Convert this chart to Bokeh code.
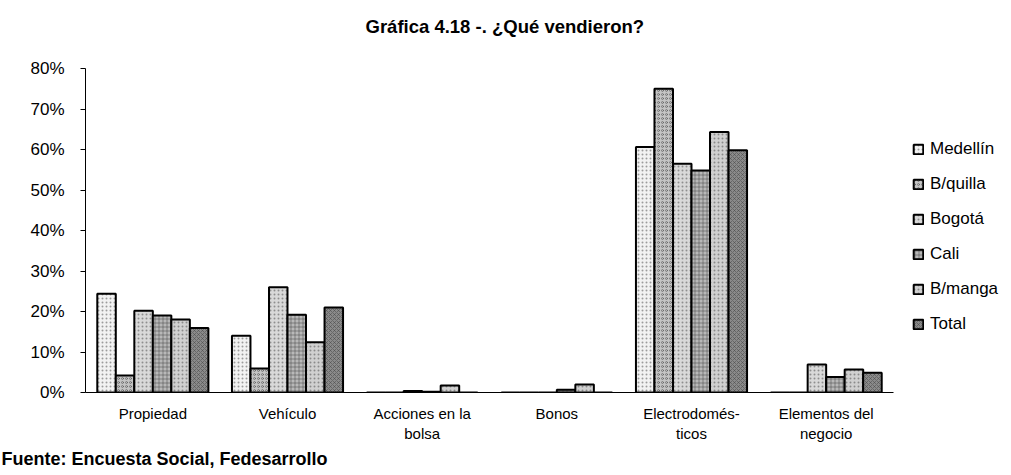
from bokeh.plotting import figure
from bokeh.models import (FactorRange, Range1d, FixedTicker, NumeralTickFormatter,
                          Legend, LegendItem, Title, ColumnDataSource)
from bokeh.transform import dodge
from bokeh.embed import file_html
from bokeh.resources import INLINE

# ---- data (percent) ----
categories = ["Propiedad", "Vehículo", "Acciones en la\nbolsa", "Bonos",
              "Electrodomés-\nticos", "Elementos del\nnegocio"]
series_names = ["Medellín", "B/quilla", "Bogotá", "Cali", "B/manga", "Total"]
medellin = [24.4, 14.0, 0.0, 0.0, 60.6, 0.0]
bquilla = [4.2, 5.9, 0.0, 0.0, 75.0, 0.0]
bogota = [20.2, 26.0, 0.4, 0.0, 56.5, 6.9]
cali = [19.0, 19.2, 0.2, 0.7, 54.8, 3.8]
bmanga = [18.0, 12.4, 1.7, 2.0, 64.3, 5.7]
total = [15.9, 21.0, 0.0, 0.0, 59.8, 4.9]
y_ticks = [0, 0.1, 0.2, 0.3, 0.4, 0.5, 0.6, 0.7, 0.8]

series_values = [medellin, bquilla, bogota, cali, bmanga, total]
keys = ["s0", "s1", "s2", "s3", "s4", "s5"]

data = {"cat": categories}
for k, vals in zip(keys, series_values):
    data[k] = [v / 100.0 for v in vals]
source = ColumnDataSource(data)

FONT = "Liberation Sans"

p = figure(frame_width=808, frame_height=324,
           x_range=FactorRange(*categories, range_padding=0, factor_padding=0),
           y_range=Range1d(0, 0.8),
           output_backend="svg", toolbar_location=None,
           min_border_left=85, min_border_right=118,
           min_border_top=68, min_border_bottom=83,
           title="Gráfica 4.18 -. ¿Qué vendieron?")

p.title.text_font = FONT
p.title.text_font_size = "18.5px"
p.title.text_font_style = "bold"
p.title.text_color = "black"
p.title.align = "left"
p.title.offset = 280
p.title.vertical_align = "top"
p.title.standoff = 0

# spacer title between the main title and the frame
spacer = Title(text=" ", text_font=FONT, text_font_size="10px", standoff=17)
p.add_layout(spacer, "above")

fills = ["#f2f2f2", "#c4c4c4", "#d9d9d9", "#b8b8b8", "#d0d0d0", "#8a8a8a"]
hatches = [".", "o", ".", "+", ".", "x"]

bw = 0.1375
renderers = []
for i, k in enumerate(keys):
    off = -3 * bw + bw / 2 + i * bw
    r = p.vbar(x=dodge("cat", off, range=p.x_range), top=k, width=bw,
               source=source, fill_color=fills[i], line_color="black",
               line_width=2, hatch_pattern=hatches[i], hatch_color="#444444",
               hatch_alpha=0.5, hatch_scale=4)
    renderers.append(r)

legend = Legend(items=[LegendItem(label=n, renderers=[r]) for n, r in zip(series_names, renderers)],
                location=(19, 58), border_line_color=None, background_fill_alpha=0,
                label_text_font=FONT, label_text_font_size="17px",
                label_text_color="black",
                glyph_width=12, glyph_height=12, label_height=20, spacing=15,
                padding=0, margin=0, label_standoff=6)
p.add_layout(legend, "right")

footer = Title(text="Fuente: Encuesta Social, Fedesarrollo", align="left",
               offset=-84, text_font=FONT, text_font_size="18px",
               text_font_style="bold", text_color="black", standoff=4)
p.add_layout(footer, "below")

p.xgrid.visible = False
p.ygrid.visible = False
p.outline_line_color = None

p.yaxis.ticker = FixedTicker(ticks=y_ticks)
p.yaxis.formatter = NumeralTickFormatter(format="0%")
p.yaxis.major_tick_out = 5
p.yaxis.major_tick_in = 0
p.yaxis.minor_tick_line_color = None
p.yaxis.major_label_text_font = FONT
p.yaxis.major_label_text_font_size = "17px"
p.yaxis.major_label_text_color = "black"
p.yaxis.axis_line_color = "black"
p.yaxis.major_tick_line_color = "black"
p.yaxis.major_label_standoff = 16

p.xaxis.major_tick_line_color = None
p.xaxis.major_label_text_font = FONT
p.xaxis.major_label_text_font_size = "15px"
p.xaxis.major_label_text_color = "black"
p.xaxis.axis_line_color = "black"
p.xaxis.major_label_standoff = 6

open("out.html", "w").write(file_html(p, INLINE))
